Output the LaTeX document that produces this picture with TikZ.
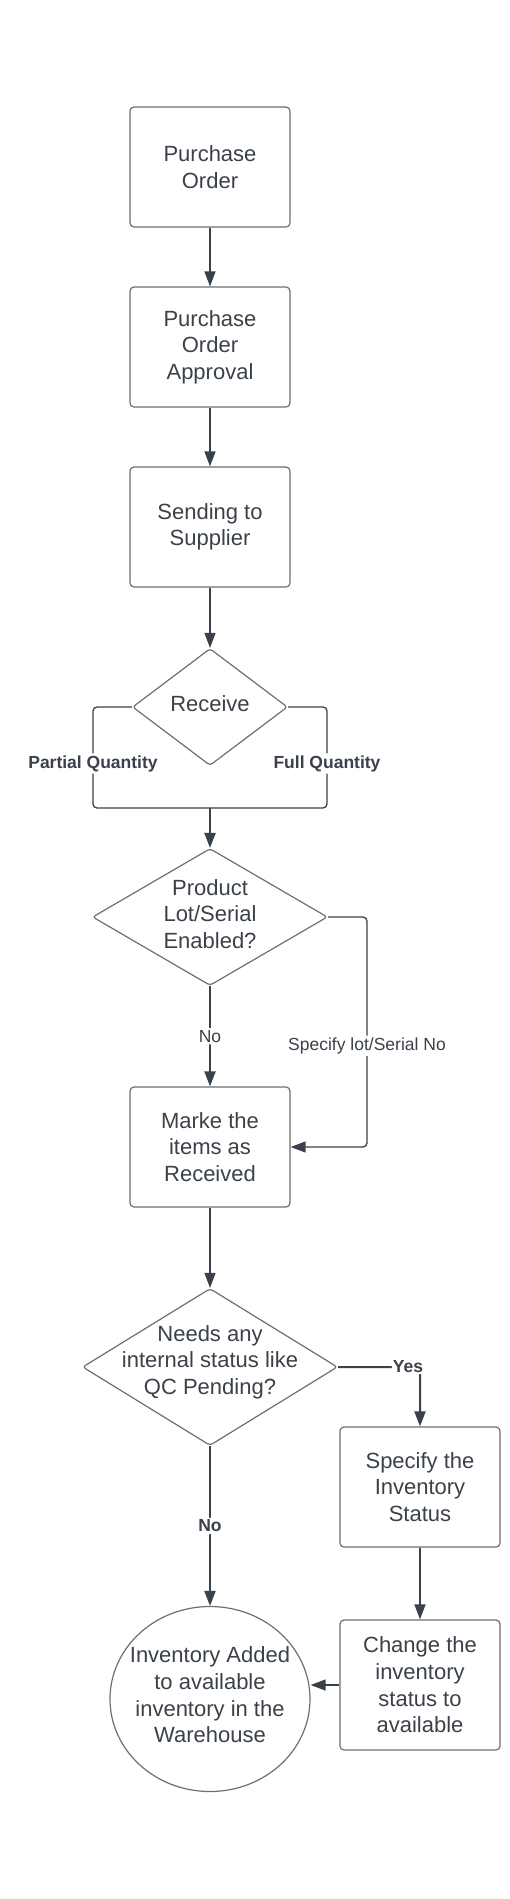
\documentclass[tikz,border=0pt]{standalone}
\usepackage{fontspec}
\setmainfont{Liberation Sans}
\usetikzlibrary{shapes.geometric,arrows.meta}
\definecolor{ink}{HTML}{3A414A}
\definecolor{rim}{HTML}{6E6E6E}

\begin{document}
\begin{tikzpicture}[x=1pt, y=-1pt,
    box/.style={draw=rim, line width=1.2pt, rounded corners=4pt, minimum width=160pt, minimum height=120pt, inner sep=0pt, align=center, text=ink, font=\fontsize{22}{26.6}\selectfont},
    decision/.style={draw=rim, line width=1.2pt, diamond, inner sep=0pt, rounded corners=3pt},
    dtext/.style={align=center, text=ink, inner sep=0pt, font=\fontsize{22}{26.6}\selectfont},
    flow/.style={draw=ink, line width=1.3pt, rounded corners=4pt},
    arr/.style={flow, -{Triangle[length=15pt,width=11pt]}},
    lbl/.style={fill=white, text=ink, inner sep=2pt, font=\fontsize{17.5}{21}\selectfont},
    blbl/.style={lbl, font=\fontsize{17.5}{21}\selectfont\bfseries}]
    \useasboundingbox (0,0) rectangle (510,1899);

    % main column
    \node[box] (po) at (210,167) {Purchase\\Order};
    \node[box] (poa) at (210,347) {Purchase\\Order\\Approval};
    \node[box] (sts) at (210,527) {Sending to\\Supplier};
    \node[decision, minimum width=155pt, minimum height=117pt] (recv) at (210,707) {};
    \node[dtext] (recvt) at (210,704) {Receive};
    \node[decision, minimum width=235pt, minimum height=137pt] (lot) at (210,917) {};
    \node[dtext, yshift=3pt] (lott) at (lot) {Product\\Lot/Serial\\Enabled?};
    \node[box] (mark) at (210,1147) {Marke the\\items as\\Received};
    \node[decision, minimum width=255pt, minimum height=157pt] (qc) at (210,1367) {};
    \node[dtext, yshift=5pt] (qct) at (qc) {Needs any\\internal status like\\QC Pending?};
    \node[ellipse, draw=rim, line width=1.2pt, minimum width=200pt, minimum height=185pt, inner sep=0pt] (inv) at (210,1699) {};
    \node[dtext, yshift=4pt] (invt) at (inv) {Inventory Added\\to available\\inventory in the\\Warehouse};

    % side column
    \node[box] (spec) at (420,1487) {Specify the\\Inventory\\Status};
    \node[box, minimum height=130pt] (chg) at (420,1685) {Change the\\inventory\\status to\\available};

    \coordinate (pl) at (93,808);
    \coordinate (fr) at (327,808);
    \coordinate (mg) at (210,808);
    \coordinate (sr) at (367,1147);

    \draw[arr] (po) -- (poa);
    \draw[arr] (poa) -- (sts);
    \draw[arr] (sts) -- (recv);
    \draw[flow] (recv.west) -| node[blbl, pos=0.78] {Partial Quantity} (pl) -- (mg);
    \draw[flow] (recv.east) -| node[blbl, pos=0.78] {Full Quantity} (fr) -- (mg);
    \draw[arr, line width=2pt] (mg) -- (lot);
    \draw[arr, line width=2pt] (lot) -- node[lbl] {No} (mark);
    \draw[arr] (lot.east) -| node[lbl, pos=0.78] {Specify lot/Serial No} (sr) -- (mark.east);
    \draw[arr] (mark) -- (qc);
    \draw[arr, line width=2pt] (qc.east) -| node[blbl, pos=0.5, xshift=-12pt, inner sep=1pt] {Yes} (spec.north);
    \draw[arr, line width=2pt] (qc) -- node[blbl] {No} (inv);
    \draw[arr] (spec) -- (chg);
    \draw[arr] (chg.west) -- (chg.west -| inv.east);
\end{tikzpicture}
\end{document}
